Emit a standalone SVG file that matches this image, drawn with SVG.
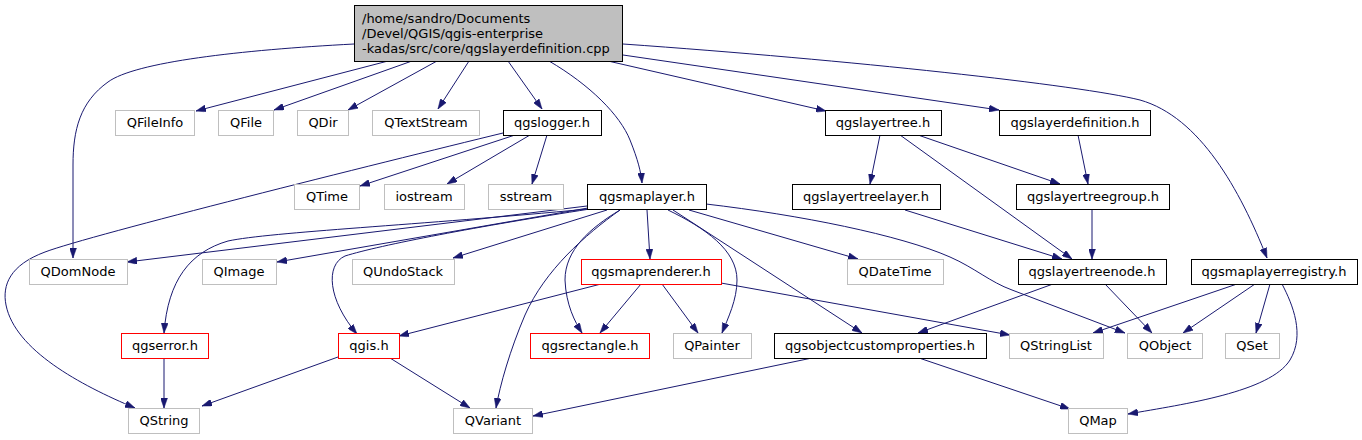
<svg xmlns="http://www.w3.org/2000/svg" width="1362" height="440" viewBox="0 0 1362 440">
<style>
  .n rect { fill: #ffffff; stroke-width: 1; }
  .ext rect { stroke: #bfbfbf; }
  .doc rect { stroke: #000000; }
  .trn rect { stroke: #ff0000; }
  .root rect { fill: #bfbfbf; stroke: #000000; }
  text { font-family: "DejaVu Sans", "Liberation Sans", sans-serif; font-size: 13px; fill: #000000; }
  .n text { text-anchor: middle; }
  #edges path { fill: none; stroke: #191970; stroke-width: 1; marker-end: url(#arr); }
</style>
<defs>
  <marker id="arr" viewBox="0 0 10 7" refX="10" refY="3.5" markerWidth="10" markerHeight="7" markerUnits="userSpaceOnUse" orient="auto">
    <path d="M0,0 L10,3.5 L0,7 z" fill="#191970" stroke="#191970" stroke-width="0.5"/>
  </marker>
</defs>
<rect width="1362" height="440" fill="#ffffff"/>
<g id="edges">
  <path d="M354,44 C 240,50 135,62 108,82 C 80,102 73,130 73,165 L 73,258"/>
  <path d="M388,61 L 196,111"/>
  <path d="M412,61 L 274,110"/>
  <path d="M437,61 L 348,110"/>
  <path d="M469,61 L 438,109"/>
  <path d="M508,61 L 542,109"/>
  <path d="M549,61 C 590,85 620,115 630,140 C 638,160 641,172 642,183"/>
  <path d="M608,61 L 826,111"/>
  <path d="M623,55 L 999,110"/>
  <path d="M623,44 C 850,60 1080,85 1140,100 C 1200,117 1240,190 1267,258"/>
  <path d="M503,133 C 380,163 90,235 45,252 C 10,265 2,285 6,305 C 15,350 80,385 135,408"/>
  <path d="M515,135 L 360,186"/>
  <path d="M530,135 L 447,184"/>
  <path d="M547,135 L 532,184"/>
  <path d="M880,135 L 870,184"/>
  <path d="M918,135 L 1060,184"/>
  <path d="M900,135 L 1072,259"/>
  <path d="M1078,135 L 1088,184"/>
  <path d="M905,210 L 1062,259"/>
  <path d="M1092,210 L 1092,259"/>
  <path d="M1053,284 L 918,333"/>
  <path d="M1105,284 L 1152,333"/>
  <path d="M1237,284 L 1093,333"/>
  <path d="M1255,284 L 1183,333"/>
  <path d="M1270,284 L 1256,333"/>
  <path d="M1282,284 C 1293,305 1305,335 1290,360 C 1270,392 1185,404 1128,414"/>
  <path d="M587,206 L 127,262"/>
  <path d="M588,208 L 277,262"/>
  <path d="M607,210 L 453,258"/>
  <path d="M588,209 C 420,225 270,232 228,241 C 190,252 168,280 164,333"/>
  <path d="M590,209 C 480,226 380,245 345,256 C 325,265 328,300 357,334"/>
  <path d="M620,210 C 585,235 545,270 525,315 C 510,350 500,385 496,408"/>
  <path d="M620,210 C 590,228 565,250 565,280 C 566,305 575,322 582,333"/>
  <path d="M647,210 L 650,259"/>
  <path d="M668,210 C 705,228 737,250 737,280 C 737,300 728,318 722,333"/>
  <path d="M673,210 L 862,333"/>
  <path d="M689,210 L 858,259"/>
  <path d="M706,204 C 800,215 900,235 950,257 C 975,268 990,282 1012,290 L 1125,333"/>
  <path d="M601,284 L 399,336"/>
  <path d="M641,284 L 600,333"/>
  <path d="M662,284 L 698,333"/>
  <path d="M721,283 L 1010,335"/>
  <path d="M164,358 L 164,408"/>
  <path d="M338,357 L 202,406"/>
  <path d="M390,358 L 470,408"/>
  <path d="M812,358 L 533,416"/>
  <path d="M919,358 L 1070,409"/>
</g>
<g id="root" class="root">
  <rect x="354.5" y="5.5" width="268" height="56"/>
  <text x="362" y="23">/home/sandro/Documents</text>
  <text x="362" y="38">/Devel/QGIS/qgis-enterprise</text>
  <text x="362" y="53">-kadas/src/core/qgslayerdefinition.cpp</text>
</g>
<g id="QFileInfo" class="n ext"><rect x="115.5" y="110.5" width="79" height="25"/><text x="155" y="127">QFileInfo</text></g>
<g id="QFile" class="n ext"><rect x="218.5" y="110.5" width="55" height="25"/><text x="246" y="127">QFile</text></g>
<g id="QDir" class="n ext"><rect x="297.5" y="110.5" width="51" height="25"/><text x="323" y="127">QDir</text></g>
<g id="QTextStream" class="n ext"><rect x="372.5" y="110.5" width="107" height="25"/><text x="426" y="127">QTextStream</text></g>
<g id="qgslogger" class="n doc"><rect x="503.5" y="110.5" width="98" height="25"/><text x="552" y="127">qgslogger.h</text></g>
<g id="qgslayertree" class="n doc"><rect x="825.5" y="110.5" width="116" height="25"/><text x="883" y="127">qgslayertree.h</text></g>
<g id="qgslayerdefinition" class="n doc"><rect x="999.5" y="110.5" width="151" height="25"/><text x="1075" y="127">qgslayerdefinition.h</text></g>
<g id="QTime" class="n ext"><rect x="294.5" y="184.5" width="65" height="25"/><text x="327" y="201">QTime</text></g>
<g id="iostream" class="n ext"><rect x="384.5" y="184.5" width="80" height="25"/><text x="424" y="201">iostream</text></g>
<g id="sstream" class="n ext"><rect x="488.5" y="184.5" width="75" height="25"/><text x="526" y="201">sstream</text></g>
<g id="qgsmaplayer" class="n doc"><rect x="587.5" y="184.5" width="119" height="25"/><text x="647" y="201">qgsmaplayer.h</text></g>
<g id="qgslayertreelayer" class="n doc"><rect x="792.5" y="184.5" width="148" height="25"/><text x="866" y="201">qgslayertreelayer.h</text></g>
<g id="qgslayertreegroup" class="n doc"><rect x="1016.5" y="184.5" width="153" height="25"/><text x="1093" y="201">qgslayertreegroup.h</text></g>
<g id="QDomNode" class="n ext"><rect x="29.5" y="259.5" width="98" height="25"/><text x="78" y="276">QDomNode</text></g>
<g id="QImage" class="n ext"><rect x="202.5" y="259.5" width="74" height="25"/><text x="239" y="276">QImage</text></g>
<g id="QUndoStack" class="n ext"><rect x="352.5" y="259.5" width="102" height="25"/><text x="403" y="276">QUndoStack</text></g>
<g id="qgsmaprenderer" class="n trn"><rect x="581.5" y="259.5" width="140" height="25"/><text x="651" y="276">qgsmaprenderer.h</text></g>
<g id="QDateTime" class="n ext"><rect x="847.5" y="259.5" width="96" height="25"/><text x="895" y="276">QDateTime</text></g>
<g id="qgslayertreenode" class="n doc"><rect x="1018.5" y="259.5" width="148" height="25"/><text x="1092" y="276">qgslayertreenode.h</text></g>
<g id="qgsmaplayerregistry" class="n doc"><rect x="1191.5" y="259.5" width="166" height="25"/><text x="1274" y="276">qgsmaplayerregistry.h</text></g>
<g id="qgserror" class="n trn"><rect x="121.5" y="333.5" width="87" height="25"/><text x="165" y="350">qgserror.h</text></g>
<g id="qgis" class="n trn"><rect x="338.5" y="333.5" width="61" height="25"/><text x="369" y="350">qgis.h</text></g>
<g id="qgsrectangle" class="n trn"><rect x="530.5" y="333.5" width="119" height="25"/><text x="590" y="350">qgsrectangle.h</text></g>
<g id="QPainter" class="n ext"><rect x="673.5" y="333.5" width="78" height="25"/><text x="712" y="350">QPainter</text></g>
<g id="qgsobjectcustomproperties" class="n doc"><rect x="774.5" y="333.5" width="212" height="25"/><text x="880" y="350">qgsobjectcustomproperties.h</text></g>
<g id="QStringList" class="n ext"><rect x="1009.5" y="333.5" width="94" height="25"/><text x="1056" y="350">QStringList</text></g>
<g id="QObject" class="n ext"><rect x="1127.5" y="333.5" width="75" height="25"/><text x="1165" y="350">QObject</text></g>
<g id="QSet" class="n ext"><rect x="1225.5" y="333.5" width="54" height="25"/><text x="1252" y="350">QSet</text></g>
<g id="QString" class="n ext"><rect x="128.5" y="408.5" width="71" height="25"/><text x="164" y="425">QString</text></g>
<g id="QVariant" class="n ext"><rect x="453.5" y="408.5" width="79" height="25"/><text x="493" y="425">QVariant</text></g>
<g id="QMap" class="n ext"><rect x="1068.5" y="408.5" width="59" height="25"/><text x="1098" y="425">QMap</text></g>
</svg>
